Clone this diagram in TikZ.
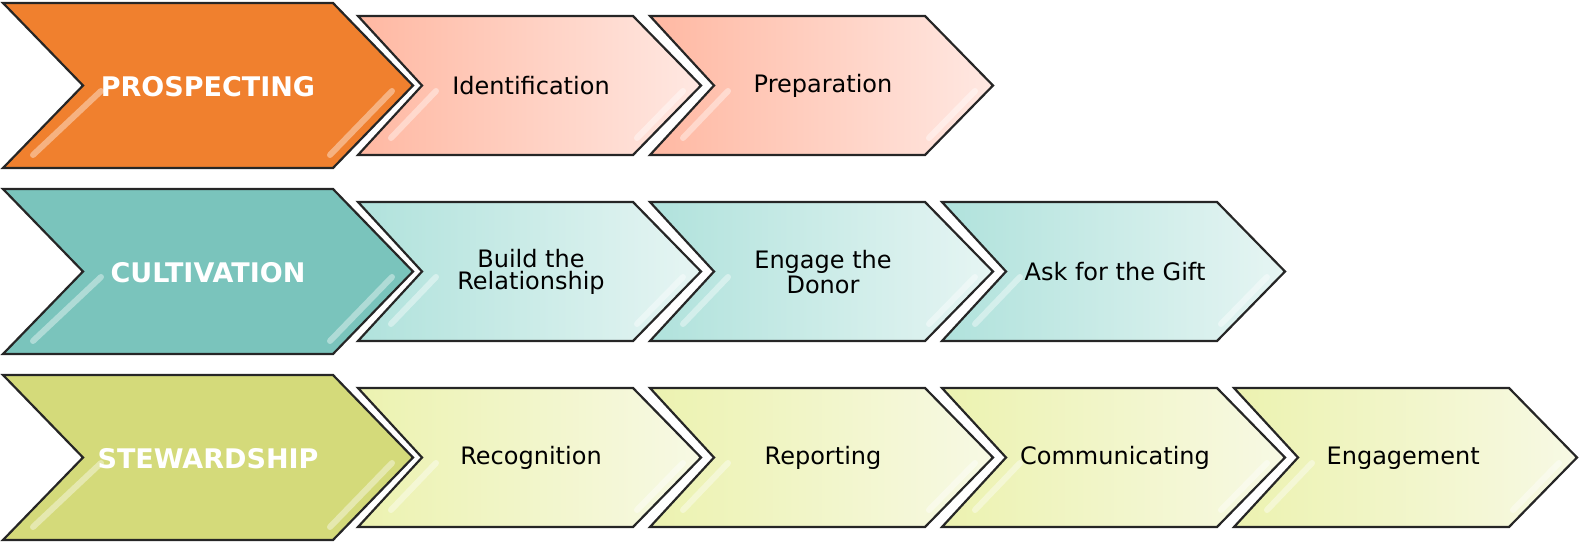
\documentclass[tikz,border=0pt]{standalone}
\usepackage{fontspec}
\setmainfont{DejaVu Sans}
\usetikzlibrary{positioning}

\definecolor{prospect}{RGB}{240,128,46}
\definecolor{cultivate}{RGB}{122,196,188}
\definecolor{steward}{RGB}{212,218,122}
\definecolor{pinkL}{RGB}{255,184,162}
\definecolor{pinkR}{RGB}{255,232,226}
\definecolor{tealL}{RGB}{176,226,220}
\definecolor{tealR}{RGB}{230,245,243}
\definecolor{olivL}{RGB}{236,242,176}
\definecolor{olivR}{RGB}{247,249,228}

\tikzset{
  stagebox/.style={draw=black!85, line width=1.1pt, line join=miter},
  stepbox/.style={draw=black!85, line width=1.1pt, line join=miter},
  gloss/.style={draw=white, line width=3pt, line cap=round, opacity=0.4},
  stagetext/.style={text=white, font=\fontsize{13.5}{15}\selectfont\bfseries},
  steptext/.style={text=black, align=center, font=\fontsize{12}{11}\selectfont}
}

\begin{document}
\begin{tikzpicture}[x=0.5pt,y=-0.5pt]
\useasboundingbox (0,0) rectangle (1580,545);

% main stages
\foreach \stage/\fillc/\r in {PROSPECTING/prospect/0, CULTIVATION/cultivate/1, STEWARDSHIP/steward/2} {
  \pgfmathsetmacro\ytop{3+186*\r}
  \draw[stagebox, fill=\fillc] (3,\ytop) -- (333,\ytop) -- (413,\ytop+82.5)
    -- (333,\ytop+165) -- (3,\ytop+165) -- (83,\ytop+82.5) -- cycle;
  \draw[gloss] (101,\ytop+88) -- (33,\ytop+152);
  \draw[gloss] (392,\ytop+88) -- (330,\ytop+152);
  \node[stagetext] (stage\r) at (208,\ytop+83.5) {\stage};
}

% steps, one row after the other
\foreach \r/\i/\lc/\rc/\txt in {
  0/0/pinkL/pinkR/Identification,
  0/1/pinkL/pinkR/Preparation,
  1/0/tealL/tealR/{Build the\\Relationship},
  1/1/tealL/tealR/{Engage the\\Donor},
  1/2/tealL/tealR/Ask for the Gift,
  2/0/olivL/olivR/Recognition,
  2/1/olivL/olivR/Reporting,
  2/2/olivL/olivR/Communicating,
  2/3/olivL/olivR/Engagement
} {
  \pgfmathsetmacro\xl{358+292*\i}
  \pgfmathsetmacro\ytop{16+186*\r}
  \draw[stepbox, left color=\lc, right color=\rc] (\xl,\ytop) -- (\xl+275,\ytop)
    -- (\xl+343,\ytop+69.5) -- (\xl+275,\ytop+139) -- (\xl,\ytop+139)
    -- (\xl+64,\ytop+69.5) -- cycle;
  \draw[gloss] (\xl+78,\ytop+75) -- (\xl+33,\ytop+122);
  \draw[gloss] (\xl+325,\ytop+75) -- (\xl+279,\ytop+122);
  \node[steptext] (step\r\i) at (\xl+173,\ytop+70) {\txt};
}
\end{tikzpicture}
\end{document}
